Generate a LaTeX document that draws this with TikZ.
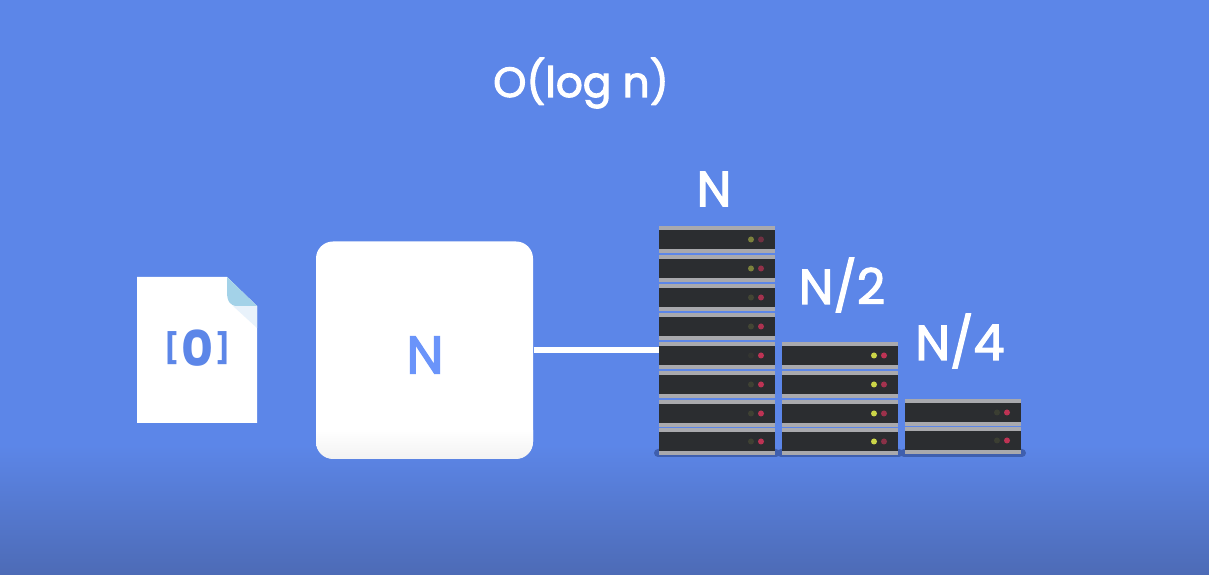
\documentclass[tikz,border=0pt]{standalone}
\usepackage{fontspec}
\setmainfont{Poppins}
\newfontfamily\labelfont{Poppins}[FakeBold=2.5]
\definecolor{background}{HTML}{5C86E8}
\definecolor{backgroundlow}{HTML}{4D6BB6}
\definecolor{rack}{HTML}{2B2D30}
\definecolor{rail}{HTML}{A9A9AD}
\definecolor{foldblue}{HTML}{A3D2E8}
\definecolor{foldpale}{HTML}{E8F2FB}
\definecolor{shadowblue}{HTML}{3F5FAE}
\definecolor{boxblue}{HTML}{6A94FA}
\definecolor{ledred}{HTML}{D8345A}
\definecolor{ledyellow}{HTML}{CBD548}
\tikzset{
  bigtext/.style={text=white, font=\labelfont\fontsize{14}{16}\selectfont, inner sep=0pt},
  boxtext/.style={text=background, font=\labelfont\fontsize{12}{14}\selectfont, inner sep=0pt},
}
% one server: left x, top y, colours of its two lights
\newcommand{\serverunit}[4]{
  \fill[rail] (#1,#2) rectangle ++(1.16,-0.04);
  \fill[rack] (#1,#2-0.04) rectangle ++(1.16,-0.19);
  \fill[rail] (#1,#2-0.23) rectangle ++(1.16,-0.04);
  \fill[#3] (#1+0.92,#2-0.135) circle (0.03);
  \fill[#4] (#1+1.02,#2-0.135) circle (0.03);
}
% small raised bracket for the file label
\newcommand{\filebracket}[1]{\raisebox{2.1pt}{\fontsize{8.4}{10}\selectfont #1}}
\begin{document}
\begin{tikzpicture}

\useasboundingbox (0,0) rectangle (12.09,5.75);
\fill[background] (0,1.3) rectangle (12.09,5.75);
\shade[bottom color=backgroundlow, top color=background] (0,0) rectangle (12.09,1.3);

\node[bigtext, font=\labelfont\fontsize{12}{14}\selectfont] (title) at (5.81,4.92) {O(log n)};

% file
\fill[white] (1.37,2.98) -- (2.27,2.98) -- (2.57,2.69) -- (2.57,1.52) -- (1.37,1.52) -- cycle;
\fill[foldpale] (2.57,2.69) -- (2.57,2.47) -- (2.33,2.69) -- cycle;
\fill[foldblue] (2.27,2.98) -- (2.57,2.69) -- (2.37,2.69) .. controls (2.30,2.69) and (2.27,2.74) .. (2.27,2.83) -- cycle;
\node[boxtext, font=\bfseries\fontsize{14}{16}\selectfont] (filelabel) at (1.975,2.27) {\filebracket{[}\hspace{0.6pt}0\hspace{0.6pt}\filebracket{]}};

% box and link
\node[fill=white, rounded corners=0.17cm, minimum size=2.17cm, inner sep=0pt] (nbox) at (4.245,2.25) {};
\shade[top color=white, bottom color=black!5] (3.16,1.45) [rounded corners=0.17cm] -- (3.16,1.16) -- (5.33,1.16) [sharp corners] -- (5.33,1.45) -- cycle;
\node[boxtext, text=boxblue, font=\labelfont\fontsize{15}{17}\selectfont] (nlabel) at (4.25,2.20) {N};
\coordinate (linkend) at (6.59,2.25);
\draw[white, line width=1.9pt] (nbox.east) -- (linkend);

% shadow under the racks
\fill[shadowblue, rounded corners=0.04cm] (6.54,1.18) rectangle (7.80,1.26);
\fill[shadowblue, rounded corners=0.04cm] (7.77,1.18) rectangle (9.03,1.26);
\fill[shadowblue, rounded corners=0.04cm] (9.00,1.18) rectangle (10.26,1.26);

% racks
\foreach \t/\a/\b in {3.49/ledyellow!50!rack/ledred!40!rack, 3.20/ledyellow!50!rack/ledred!60!rack, 2.91/ledyellow!15!rack/ledred!70!rack, 2.62/ledyellow!15!rack/ledred!75!rack, 2.33/ledyellow!5!rack/ledred!85!rack, 2.04/ledyellow!12!rack/ledred!85!rack, 1.75/ledyellow!12!rack/ledred!85!rack, 1.47/ledyellow!12!rack/ledred!85!rack}
  \serverunit{6.59}{\t}{\a}{\b};
\foreach \t/\b in {2.33/ledred!85!rack, 2.04/ledred!70!rack, 1.75/ledred!65!rack, 1.47/ledred!55!rack}
  \serverunit{7.82}{\t}{ledyellow}{\b};
\foreach \t in {1.76, 1.48}
  \serverunit{9.05}{\t}{ledyellow!10!rack}{ledred!85!rack};

\node[bigtext] (labelone) at (7.14,3.86) {N};
\node[bigtext] (labeltwo) at (8.42,2.90) {N/2};
\node[bigtext] (labelfour) at (9.60,2.34) {N/4};

\end{tikzpicture}
\end{document}
